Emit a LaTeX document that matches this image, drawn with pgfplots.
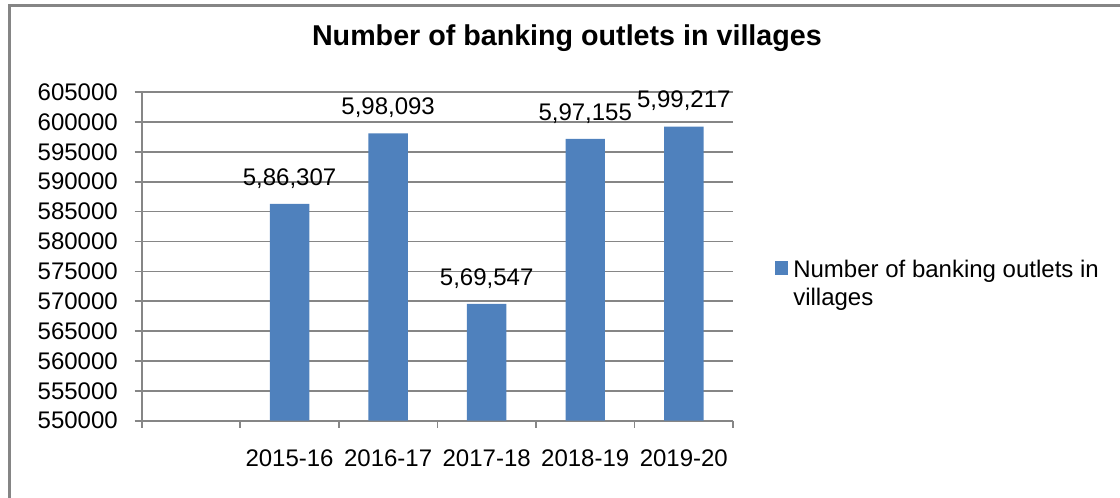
\documentclass[border=0pt]{standalone}
\usepackage{pgfplots}
\usepackage{pgfplotstable}
\pgfplotsset{compat=1.18}
\usepackage{fontspec}
\setmainfont{Liberation Sans}
\definecolor{barblue}{HTML}{4F81BD}
\definecolor{gridgray}{HTML}{868686}
\definecolor{framegray}{HTML}{858585}
\pgfplotstableread{
x y label
1 586307 5,86,307
2 598093 5,98,093
3 569547 5,69,547
4 597155 5,97,155
5 599217 5,99,217
}\datatable
\begin{document}
\begin{tikzpicture}[font=\fontsize{18}{20.5}\selectfont]
\useasboundingbox (0,0) rectangle (840pt,372.75pt);
\draw[framegray, line width=2.25pt] (7.1pt,-5pt) -- (7.1pt,368.4pt) -- (845pt,368.4pt);
\begin{axis}[
  at={(106.3pt,57.2pt)}, anchor=south west,
  scale only axis, width=443.5pt, height=246.5pt,
  ybar, bar width=0.4,
  xmin=-0.5, xmax=5.5, ymin=550000, ymax=605000,
  axis x line=bottom, axis y line=left,
  axis line style={-, gridgray, line width=1.2pt},
  xtick={-0.5,0.5,...,5.5}, xticklabels={},
  extra x ticks={1,2,3,4,5},
  extra x tick labels={2015-16,2016-17,2017-18,2018-19,2019-20},
  extra x tick style={tick style={draw=none}},
  ytick={550000,555000,...,605000},
  scaled y ticks=false,
  tick align=outside, major tick length=5.25pt,
  tick style={gridgray, line width=1.2pt},
  ymajorgrids, major grid style={gridgray, line width=1.2pt},
  yticklabel style={anchor=east, inner sep=0pt, xshift=-12.5pt, /pgf/number format/fixed, /pgf/number format/1000 sep={}, /pgf/number format/assume math mode=true},
  xticklabel style={anchor=base, inner sep=0pt, yshift=-29pt},
  title={Number of banking outlets in villages},
  title style={font=\bfseries\fontsize{21.5}{25}\selectfont, at={(0.719,1.116)}, anchor=base, yshift=0pt},
  nodes near coords,
  every node near coord/.append style={anchor=base, inner sep=0pt, yshift=14pt, black},
  legend style={draw=none, fill=none, at={(1.071,0.489)}, anchor=north west, inner sep=0pt, nodes={align=left, inner sep=0pt}},
  legend cell align=left,
  legend image code/.code={\fill[barblue] (0pt,6.7pt) rectangle (9.75pt,16.7pt); \path (0pt,-16.7pt) (13.5pt,16.7pt);},
]
\addplot[fill=barblue, draw=none, point meta=explicit symbolic] table[x=x, y=y, meta=label]{\datatable};
\addlegendentry{Number of banking outlets in\\villages}
\end{axis}
\end{tikzpicture}
\end{document}
